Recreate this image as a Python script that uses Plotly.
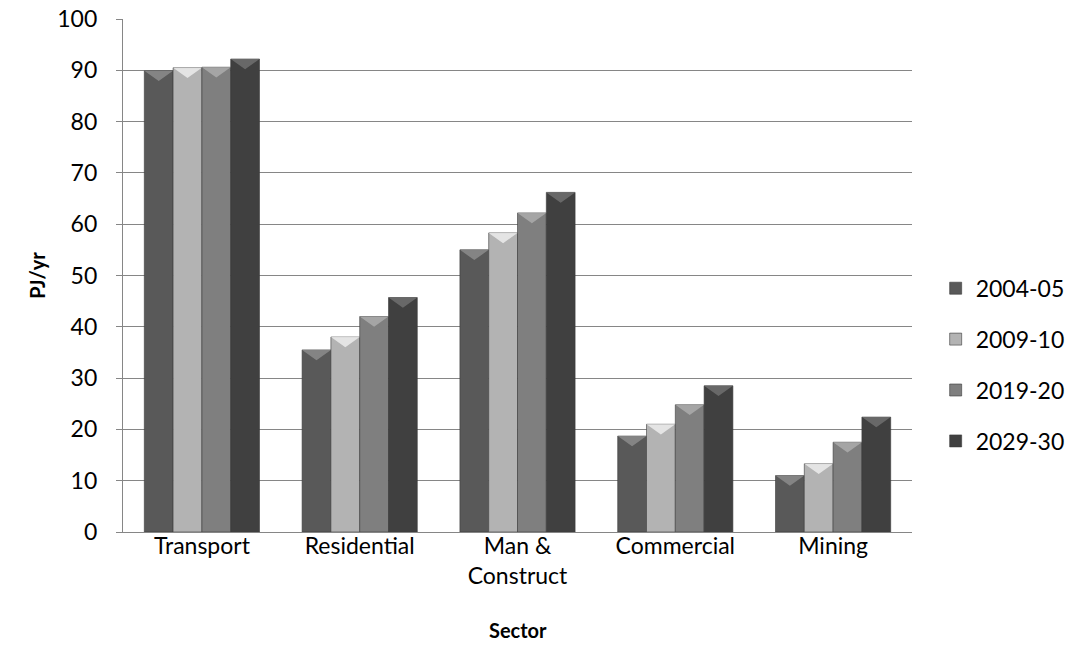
import plotly.graph_objects as go

sectors = ["Transport", "Residential", "Man &<br>Construct", "Commercial", "Mining"]
periods = ["2004-05", "2009-10", "2019-20", "2029-30"]
v_2004_05 = [89.9, 35.5, 55.0, 18.7, 11.0]
v_2009_10 = [90.5, 38.0, 58.3, 21.0, 13.3]
v_2019_20 = [90.6, 42.0, 62.2, 24.8, 17.5]
v_2029_30 = [92.2, 45.7, 66.2, 28.5, 22.4]
series = [v_2004_05, v_2009_10, v_2019_20, v_2029_30]
colors = ["#595959", "#b3b3b3", "#7f7f7f", "#404040"]
bevel_colors = ["#8c8c8c", "#ececec", "#ababab", "#707070"]

font = "Lato, 'Open Sans', sans-serif"
bargap = 0.27
bevel_depth = 2.0  # depth of the bevelled cap, in y units

fig = go.Figure()
for name, vals, col in zip(periods, series, colors):
    fig.add_trace(go.Bar(
        x=sectors, y=vals, name=name, legendgroup=name,
        marker=dict(color=col, line=dict(color="#3a3a3a", width=0.6)),
    ))

# bevelled caps on top of each bar, drawn on a numeric overlay of the category axis
n = len(series)
bw = (1 - bargap) / n
for j, (vals, bcol) in enumerate(zip(series, bevel_colors)):
    xs, ys = [], []
    for i, v in enumerate(vals):
        cx = i - (1 - bargap) / 2 + bw * (j + 0.5)
        xs += [cx - bw / 2, cx + bw / 2, cx, cx - bw / 2, None]
        ys += [v, v, v - bevel_depth, v, None]
    fig.add_trace(go.Scatter(
        x=xs, y=ys, xaxis="x2", mode="lines", fill="toself",
        fillcolor=bcol, line=dict(width=0), opacity=0.85,
        showlegend=False, hoverinfo="skip",
    ))

fig.update_layout(
    width=1068, height=670,
    margin=dict(l=123, r=156, t=19, b=138, autoexpand=False),
    paper_bgcolor="white", plot_bgcolor="white",
    barmode="group", bargap=bargap, bargroupgap=0.0,
    font=dict(family=font, size=23, color="black"),
    legend=dict(x=1.03, y=0.326, xanchor="left", yanchor="middle",
                font=dict(size=23), tracegroupgap=18, itemwidth=30),
    showlegend=True,
    xaxis=dict(
        showline=True, linecolor="#868686", linewidth=1.3,
        ticks="", tickfont=dict(size=23), ticklabelstandoff=-7,
    ),
    xaxis2=dict(overlaying="x", anchor="y", range=[-0.5, len(sectors) - 0.5],
                visible=False, showgrid=False),
    yaxis=dict(
        range=[0, 100], dtick=10, showgrid=True, gridcolor="#868686", gridwidth=1.3,
        showline=True, linecolor="#868686", linewidth=1.3,
        ticks="outside", ticklen=6, tickcolor="#868686",
        tickfont=dict(size=23), ticklabelstandoff=14,
        title=dict(text="<b>PJ/yr</b>", font=dict(size=20), standoff=6),
    ),
    annotations=[dict(
        text="<b>Sector</b>", xref="paper", yref="paper", x=0.5, y=-0.191,
        xanchor="center", yanchor="middle", showarrow=False,
        font=dict(size=20),
    )],
)
fig.write_html("out.html")
